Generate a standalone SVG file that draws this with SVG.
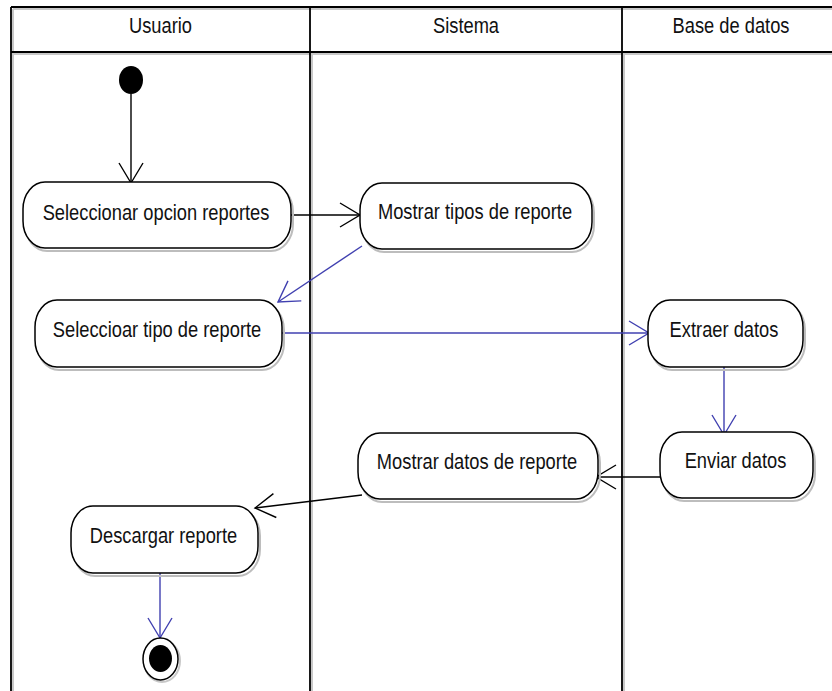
<svg xmlns="http://www.w3.org/2000/svg" width="832" height="691" viewBox="0 0 832 691">
  <style>
    .lane { stroke: #000; stroke-width: 1.8; fill: none; }
    .shade { stroke: #c8c8c8; stroke-width: 2; fill: none; }
    .act { fill: #fff; stroke: #000; stroke-width: 1.5; }
    .actshadow { fill: none; stroke: #bdbdbd; stroke-width: 2; }
    .lbl { font-family: "Liberation Sans", Arial, sans-serif; font-size: 18.3px; fill: #111; text-anchor: middle; }
    .flow { stroke: #000; stroke-width: 1.4; fill: none; marker-end: url(#headBlack); }
    .flowBlue { stroke: #4040b0; stroke-width: 1.4; fill: none; marker-end: url(#headBlue); }
  </style>
  <defs>
    <marker id="headBlack" markerUnits="userSpaceOnUse" markerWidth="26" markerHeight="28" refX="21" refY="13" orient="auto">
      <path d="M1,1 L21,13 L1,25" fill="none" stroke="#000" stroke-width="1.4"/>
    </marker>
    <marker id="headBlue" markerUnits="userSpaceOnUse" markerWidth="26" markerHeight="28" refX="21" refY="13" orient="auto">
      <path d="M1,1 L21,13 L1,25" fill="none" stroke="#4040b0" stroke-width="1.4"/>
    </marker>
  </defs>

  <rect width="832" height="691" fill="#fff"/>

  <!-- swimlane frame -->
  <g id="lanes">
    <path class="shade" d="M13,9 V691 M312,54 V691 M624,54 V691 M13,54 H832 M13,9 H832"/>
    <path class="lane" d="M11,7 H832 M11,52 H832 M11,7 V691 M310,7 V691 M622,7 V691"/>
    <g transform="translate(160.5,33) scale(1,1.2)"><text class="lbl" x="0" y="0">Usuario</text></g>
    <g transform="translate(466,33) scale(1,1.2)"><text class="lbl" x="0" y="0">Sistema</text></g>
    <g transform="translate(731,33) scale(1,1.2)"><text class="lbl" x="0" y="0">Base de datos</text></g>
  </g>

  <!-- transitions -->
  <g id="connectors">
    <path class="flow" d="M131,94 L131,183"/>
    <path class="flow" d="M291,215 L360,215"/>
    <path class="flowBlue" d="M362,246 L278,302"/>
    <path class="flowBlue" d="M282,333 L649,333"/>
    <path class="flowBlue" d="M724,363 L724,435"/>
    <path class="flow" d="M660,477 L596,477"/>
    <path class="flow" d="M362,495 L255,508"/>
    <path class="flowBlue" d="M160,567 L160,638"/>
  </g>

  <!-- start -->
  <g id="start">
    <ellipse cx="131" cy="80" rx="12" ry="14" fill="#000"/>
  </g>

  <g id="seleccionar-opcion">
    <rect class="actshadow" x="25" y="185" width="268" height="66" rx="22" ry="27"/>
    <rect class="act" x="23" y="182" width="268" height="66" rx="22" ry="27"/>
    <g transform="translate(156,220) scale(1,1.2)"><text class="lbl" x="0" y="0">Seleccionar opcion reportes</text></g>
  </g>

  <g id="mostrar-tipos">
    <rect class="actshadow" x="362" y="186" width="232" height="66" rx="22" ry="27"/>
    <rect class="act" x="360" y="183" width="232" height="66" rx="22" ry="27"/>
    <g transform="translate(475,219) scale(1,1.2)"><text class="lbl" x="0" y="0">Mostrar tipos de reporte</text></g>
  </g>

  <g id="seleccioar-tipo">
    <rect class="actshadow" x="37" y="303" width="247" height="67" rx="22" ry="27"/>
    <rect class="act" x="35" y="300" width="247" height="67" rx="22" ry="27"/>
    <g transform="translate(157,337) scale(1,1.2)"><text class="lbl" x="0" y="0">Seleccioar tipo de reporte</text></g>
  </g>

  <g id="extraer-datos">
    <rect class="actshadow" x="650" y="303" width="155" height="67" rx="22" ry="27"/>
    <rect class="act" x="648" y="300" width="155" height="67" rx="22" ry="27"/>
    <g transform="translate(724,337) scale(1,1.2)"><text class="lbl" x="0" y="0">Extraer datos</text></g>
  </g>

  <g id="enviar-datos">
    <rect class="actshadow" x="662" y="435" width="153" height="66" rx="22" ry="27"/>
    <rect class="act" x="660" y="432" width="153" height="66" rx="22" ry="27"/>
    <g transform="translate(735.5,468) scale(1,1.2)"><text class="lbl" x="0" y="0">Enviar datos</text></g>
  </g>

  <g id="mostrar-datos">
    <rect class="actshadow" x="360" y="436" width="240" height="66" rx="22" ry="27"/>
    <rect class="act" x="358" y="433" width="240" height="66" rx="22" ry="27"/>
    <g transform="translate(477,469) scale(1,1.2)"><text class="lbl" x="0" y="0">Mostrar datos de reporte</text></g>
  </g>

  <g id="descargar-reporte">
    <rect class="actshadow" x="73" y="509" width="187" height="67" rx="22" ry="27"/>
    <rect class="act" x="71" y="506" width="187" height="67" rx="22" ry="27"/>
    <g transform="translate(163.5,543) scale(1,1.2)"><text class="lbl" x="0" y="0">Descargar reporte</text></g>
  </g>

  <!-- end -->
  <g id="end">
    <ellipse cx="162" cy="661" rx="18" ry="21" fill="none" stroke="#c8c8c8" stroke-width="2"/>
    <ellipse cx="160.5" cy="659" rx="17.5" ry="21" fill="#fff" stroke="#000" stroke-width="1.5"/>
    <ellipse cx="160.5" cy="658.5" rx="11.5" ry="13.5" fill="#000"/>
  </g>
</svg>
